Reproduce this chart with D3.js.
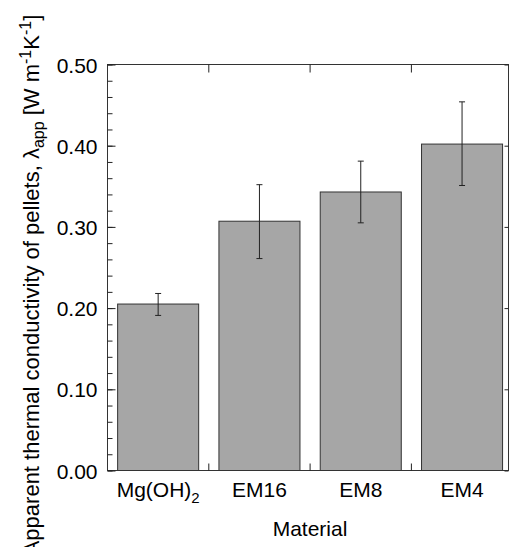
<!DOCTYPE html>
<html>
<head>
<meta charset="utf-8">
<title>Apparent thermal conductivity</title>
<script src="https://d3js.org/d3.v7.min.js"></script>
<style>
	body { margin: 0; background: #fff; }
	text { font-family: "Liberation Sans", Arial, sans-serif; fill: #000; }
</style>
</head>
<body>
<div id="chart"></div>
<script>
	// data
	var materials = ["Mg(OH)2", "EM16", "EM8", "EM4"];
	var values = [0.205, 0.307, 0.343, 0.402];
	var errLow = [0.191, 0.261, 0.305, 0.351];
	var errHigh = [0.218, 0.352, 0.381, 0.454];
	var yTicks = [0, 0.1, 0.2, 0.3, 0.4, 0.5];

	var w = 509, h = 547;
	var pLeft = 107.5, pTop = 64.5, pBottom = 470.5, pRight = 508.5;

	var svg = d3.select("#chart").append("svg")
		.attr("width", w)
		.attr("height", h);

	// bands run a little past the right frame, as in the source
	var x = d3.scaleBand()
		.domain(materials)
		.range([pLeft, pLeft + 4 * 101.3])
		.paddingInner(0.2)
		.paddingOuter(0.1);

	var y = d3.scaleLinear()
		.domain([0, 0.5])
		.range([pBottom, pTop]);

	// bars
	svg.selectAll("rect.bar")
		.data(materials)
		.enter()
		.append("rect")
		.attr("class", "bar")
		.attr("x", function(d) { return x(d); })
		.attr("y", function(d, i) { return y(values[i]); })
		.attr("width", x.bandwidth())
		.attr("height", function(d, i) { return y(0) - y(values[i]); })
		.style("fill", "#a6a6a6")
		.style("stroke", "#333")
		.style("stroke-width", 1);

	// error bars
	var err = svg.selectAll("g.err")
		.data(materials)
		.enter()
		.append("g")
		.attr("class", "err")
		.style("stroke", "#222")
		.style("stroke-width", 1);
	err.append("line")
		.attr("x1", function(d) { return x(d) + x.bandwidth() / 2; })
		.attr("x2", function(d) { return x(d) + x.bandwidth() / 2; })
		.attr("y1", function(d, i) { return y(errLow[i]); })
		.attr("y2", function(d, i) { return y(errHigh[i]); });
	[errLow, errHigh].forEach(function(arr) {
		err.append("line")
			.attr("x1", function(d) { return x(d) + x.bandwidth() / 2 - 3; })
			.attr("x2", function(d) { return x(d) + x.bandwidth() / 2 + 3; })
			.attr("y1", function(d, i) { return y(arr[i]); })
			.attr("y2", function(d, i) { return y(arr[i]); });
	});

	// frame
	svg.append("rect")
		.attr("x", pLeft)
		.attr("y", pTop)
		.attr("width", pRight - pLeft)
		.attr("height", pBottom - pTop)
		.style("fill", "none")
		.style("stroke", "#333")
		.style("stroke-width", 1);

	// left axis, ticks inward
	var minor = d3.range(0, 0.5001, 0.02);
	svg.append("g")
		.attr("transform", "translate(" + pLeft + ",0)")
		.call(d3.axisRight(y).tickValues(minor).tickSize(5).tickFormat(""))
		.call(function(g) { g.select(".domain").remove(); g.selectAll("line").style("stroke", "#222"); });
	var yAxis = svg.append("g")
		.attr("transform", "translate(" + pLeft + ",0)")
		.call(d3.axisRight(y).tickValues(yTicks).tickSize(8).tickFormat(d3.format(".2f")));
	yAxis.select(".domain").remove();
	yAxis.selectAll("line").style("stroke", "#222");
	yAxis.selectAll("text")
		.attr("x", -10)
		.attr("dy", "0.36em")
		.style("text-anchor", "end")
		.style("font-family", "'Liberation Sans', Arial, sans-serif")
		.style("font-size", "21px")
		.style("fill", "#000");

	// right axis, major ticks inward
	svg.append("g")
		.attr("transform", "translate(" + pRight + ",0)")
		.call(d3.axisLeft(y).tickValues(yTicks).tickSize(4).tickFormat(""))
		.call(function(g) { g.select(".domain").remove(); g.selectAll("line").style("stroke", "#222"); });

	// ticks on top and bottom at the band edges
	var edges = materials.slice(1).map(function(d) { return x(d) - x.step() * x.paddingInner() / 2; });
	svg.selectAll("line.tt")
		.data(edges)
		.enter()
		.append("line")
		.attr("x1", function(d) { return d; })
		.attr("x2", function(d) { return d; })
		.attr("y1", pTop)
		.attr("y2", pTop + 8)
		.style("stroke", "#222");
	svg.selectAll("line.bt")
		.data(edges)
		.enter()
		.append("line")
		.attr("x1", function(d) { return d; })
		.attr("x2", function(d) { return d; })
		.attr("y1", pBottom)
		.attr("y2", pBottom - 7)
		.style("stroke", "#222");

	// category labels
	var xl = svg.selectAll("text.cat")
		.data(materials)
		.enter()
		.append("text")
		.attr("class", "cat")
		.attr("x", function(d) { return x(d) + x.bandwidth() / 2; })
		.attr("y", 497)
		.style("text-anchor", "middle")
		.style("font-size", "21px");
	xl.each(function(d) {
		var t = d3.select(this);
		var m = d.match(/^(.*?)(\d+)$/);
		if (d.indexOf("(") >= 0 && m) {
			t.append("tspan").text(m[1]);
			t.append("tspan").attr("dy", 6).style("font-size", "15px").text(m[2]);
		} else {
			t.text(d);
		}
	});

	svg.append("text")
		.attr("x", 310)
		.attr("y", 536)
		.style("text-anchor", "middle")
		.style("font-size", "21px")
		.text("Material");

	// y title
	var yt = svg.append("text")
		.attr("transform", "translate(39,285) rotate(-90)")
		.style("text-anchor", "middle")
		.style("font-size", "22px");
	yt.append("tspan").text("Apparent thermal conductivity of pellets, \u03bb");
	yt.append("tspan").attr("dy", 5).style("font-size", "16px").text("app");
	yt.append("tspan").attr("dy", -5).text(" [W m");
	yt.append("tspan").attr("dy", -8).style("font-size", "16px").text("-1");
	yt.append("tspan").attr("dy", 8).text("K");
	yt.append("tspan").attr("dy", -8).style("font-size", "16px").text("-1");
	yt.append("tspan").attr("dy", 8).text("]");
</script>
</body>
</html>
